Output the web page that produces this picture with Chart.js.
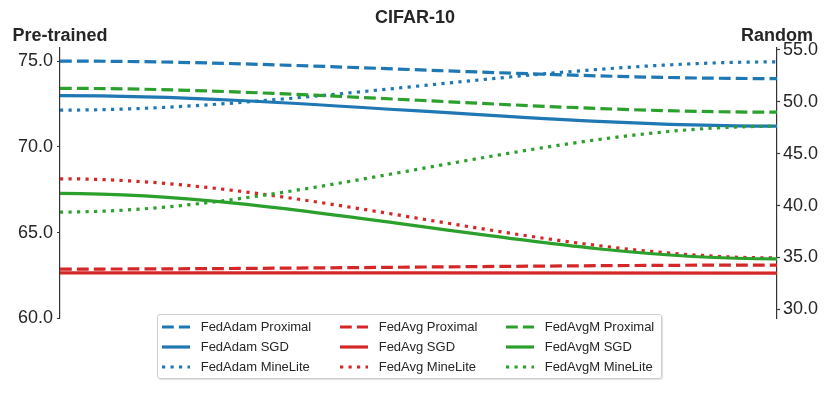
<!DOCTYPE html>
<html>
<head>
<meta charset="utf-8">
<script src="https://cdn.jsdelivr.net/npm/chart.js@4"></script>
<style>
  html, body { margin: 0; padding: 0; background: #fff; }
  #wrap { position: relative; width: 830px; height: 399px; }
  #legend {
    position: absolute; left: 157px; top: 314px; width: 505px; height: 65px;
    box-sizing: border-box; border: 1px solid #cfcfcf; border-radius: 3px;
    background: rgba(255,255,255,0.85);
    box-shadow: 1px 1px 1px rgba(0,0,0,0.12);
    font-family: 'Liberation Sans', Arial, sans-serif; font-size: 13px; color: #262626;
  }
  .item { position: absolute; height: 14px; line-height: 14px; white-space: nowrap; }
  .item svg { position: absolute; left: 0; top: 3px; }
  .item span { position: absolute; top: 0; }
</style>
</head>
<body>
<div id="wrap">
  <canvas id="chart" width="830" height="399"></canvas>
  <div id="legend"></div>
</div>
<script>
// optimisers (legend columns) and variants (legend rows)
const methods = ['FedAdam', 'FedAvg', 'FedAvgM'];
const variants = ['Proximal', 'SGD', 'MineLite'];

// accuracy per variant: [Proximal, SGD, MineLite]
const pretrainedFedAdam = [75.0, 72.98, 72.14];
const randomFedAdam = [52.24, 47.65, 53.85];
const pretrainedFedAvg = [62.88, 62.66, 68.14];
const randomFedAvg = [34.26, 33.49, 34.95];
const pretrainedFedAvgM = [73.41, 67.29, 66.2];
const randomFedAvgM = [49.0, 34.85, 47.65];

const leftTicks = [60, 65, 70, 75];
const rightTicks = [30, 35, 40, 45, 50, 55];

const pretrained = [pretrainedFedAdam, pretrainedFedAvg, pretrainedFedAvgM];
const random = [randomFedAdam, randomFedAvg, randomFedAvgM];

const colors = ['#1f77b4', '#d62728', '#2ca02c'];
const dashes = [[11.8, 5.1], [], [3.2, 5.3]];
const FONT = "'Liberation Sans', Arial, sans-serif";
const TEXT = '#262626';

const datasets = [];
methods.forEach((m, mi) => {
  variants.forEach((v, vi) => {
    datasets.push({
      label: `${m} ${v}`,
      data: [pretrained[mi][vi], random[mi][vi]],
      pre: pretrained[mi][vi],
      rand: random[mi][vi],
      borderColor: colors[mi],
      borderDash: dashes[vi],
      borderWidth: 3.2,
      tension: 0.4,
      pointRadius: 0,
      fill: false,
      order: 10 - mi * 3 - vi,
    });
  });
});

// each line starts on the left (pre-trained) axis and ends on the right (random) axis,
// joined by an S-curve with flat ends
const sCurves = {
  id: 'sCurves',
  beforeDatasetsDraw(chart) {
    const left = chart.scales.y;
    const right = chart.scales.y2;
    chart.data.datasets.forEach((ds, i) => {
      const meta = chart.getDatasetMeta(i);
      const [p0, p1] = meta.data;
      p0.y = left.getPixelForValue(ds.pre);
      p1.y = right.getPixelForValue(ds.rand);
      const dx = (p1.x - p0.x) / 3;
      p0.cp1x = p0.x; p0.cp1y = p0.y;
      p0.cp2x = p0.x + dx; p0.cp2y = p0.y;
      p1.cp1x = p1.x - dx; p1.cp1y = p1.y;
      p1.cp2x = p1.x; p1.cp2y = p1.y;
      meta.dataset._pointsUpdated = true;
      meta.dataset._path = undefined;
    });
  }
};

const axisTitles = {
  id: 'axisTitles',
  afterDraw(chart) {
    const ctx = chart.ctx;
    const area = chart.chartArea;
    ctx.save();
    ctx.font = `bold 18px ${FONT}`;
    ctx.fillStyle = TEXT;
    ctx.textAlign = 'center';
    ctx.textBaseline = 'alphabetic';
    ctx.fillText('Pre-trained', area.left, 40.5);
    ctx.fillText('Random', area.right, 40.5);
    ctx.restore();
  }
};

const axisStyle = (ticks, width, padding) => ({
  afterBuildTicks: (scale) => { scale.ticks = ticks.map(v => ({ value: v })); },
  afterFit: (scale) => { scale.width = width; },
  grid: { display: true, drawOnChartArea: false, drawTicks: true, tickLength: 3, tickColor: '#333', tickWidth: 1.2 },
  border: { display: true, color: '#333', width: 1.2 },
  ticks: {
    color: TEXT,
    padding: padding,
    font: { family: FONT, size: 18 },
    callback: (v) => Number(v).toFixed(1),
  },
});

new Chart(document.getElementById('chart'), {
  type: 'line',
  data: { labels: ['Pre-trained', 'Random'], datasets: datasets },
  options: {
    responsive: false,
    animation: false,
    layout: { padding: { top: 0, bottom: 80.5, left: 0, right: 0 } },
    plugins: {
      legend: { display: false },
      tooltip: { enabled: false },
      title: {
        display: true,
        text: 'CIFAR-10',
        color: TEXT,
        font: { family: FONT, size: 18, weight: 'bold' },
        padding: { top: 7.5, bottom: 18.9 },
      },
    },
    scales: {
      x: { display: false },
      y: Object.assign({ position: 'left', min: 60, max: 75.76 }, axisStyle(leftTicks, 60, 4)),
      y2: Object.assign({ position: 'right', min: 29.11, max: 55.19 }, axisStyle(rightTicks, 53, 3)),
    },
  },
  plugins: [sCurves, axisTitles],
});

// legend: rows are variants, columns are optimisers
const legend = document.getElementById('legend');
const colX = [4, 182, 348];
const rowY = [4.7, 24.7, 44.7];
methods.forEach((m, mi) => {
  variants.forEach((v, vi) => {
    const item = document.createElement('div');
    item.className = 'item';
    item.style.left = colX[mi] + 'px';
    item.style.top = rowY[vi] + 'px';
    const dash = dashes[vi].length ? `stroke-dasharray="${dashes[vi].join(' ')}"` : '';
    item.innerHTML =
      `<svg width="28" height="8"><line x1="0" y1="4" x2="28" y2="4" stroke="${colors[mi]}" stroke-width="3.2" ${dash}/></svg>` +
      `<span style="left:38.7px">${m} ${v}</span>`;
    legend.appendChild(item);
  });
});
</script>
</body>
</html>
